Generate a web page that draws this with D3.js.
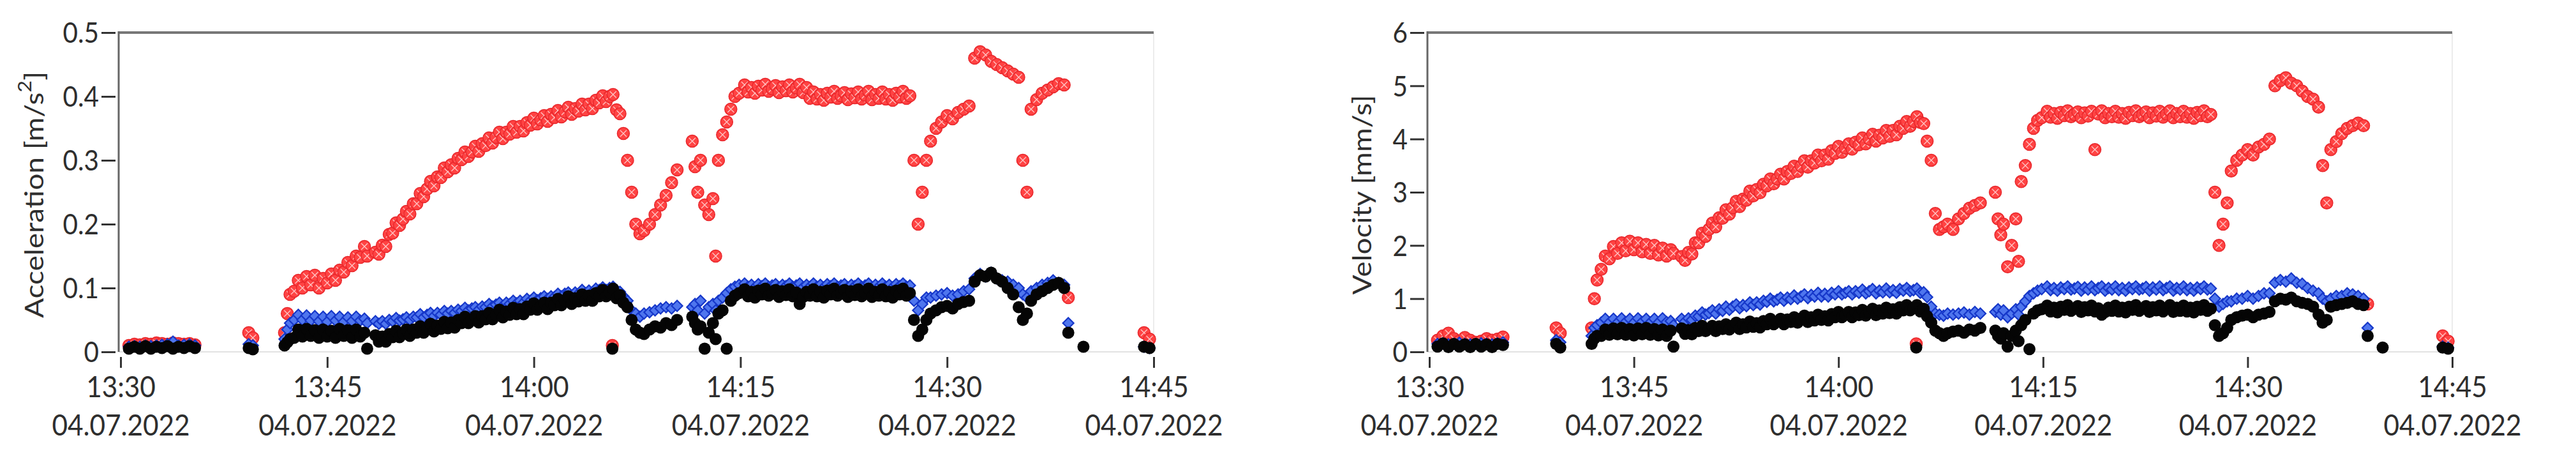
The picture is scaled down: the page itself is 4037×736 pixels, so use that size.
<!DOCTYPE html>
<html>
<head>
<meta charset="utf-8">
<script src="https://cdn.jsdelivr.net/npm/d3@7"></script>
<style>
  body { margin: 0; background: #fff; }
  svg { display: block; }
  text { font-family: Lato, 'Open Sans', sans-serif; fill: #2e2e2e; }
</style>
</head>
<body>
<div id="plot"></div>
<script>
const width = 4037
const height = 736

// measurement times, minutes after 13:30 on 04.07.2022
const minutes = [
  0.6,1.0,1.4,1.8,2.2,2.6,3.0,3.4,3.8,4.2,4.6,5.0,5.4,
  9.3,9.6,
  11.9,12.1,12.3,12.6,12.9,13.2,13.5,13.8,14.1,14.4,14.7,15.0,15.3,15.6,15.9,16.2,16.5,16.8,17.1,17.4,17.7,17.9,
  18.5,18.75,19,19.25,19.5,19.75,20,20.25,20.5,20.75,21,21.25,21.5,21.75,22,22.25,22.5,22.75,23,23.25,23.5,23.75,24,24.25,
  24.5,24.75,25,25.25,25.5,25.75,26,26.25,26.5,26.75,27,27.25,27.5,27.75,28,28.25,28.5,28.75,29,29.25,29.5,29.75,30,30.25,
  30.5,30.75,31,31.25,31.5,31.75,32,32.25,32.5,32.75,33,33.25,33.5,33.75,34,34.25,34.5,34.75,35,35.25,35.5,35.75,36,36.25,36.5,
  36.8,37.1,37.4,37.7,38.0,38.4,38.8,39.2,39.6,40.0,40.4,
  41.5,41.7,41.9,42.1,42.4,42.7,43.0,43.2,43.4,
  43.7,44.0,44.3,44.6,44.9,
  45.3,45.55,45.8,46.05,46.3,46.55,46.8,47.05,47.3,47.55,47.8,48.05,48.3,48.55,48.8,49.05,49.3,49.55,49.8,50.05,50.3,50.55,50.8,51.05,51.3,
  51.55,51.8,52.05,52.3,52.55,52.8,53.05,53.3,53.55,53.8,54.05,54.3,54.55,54.8,55.05,55.3,55.55,55.8,56.05,56.3,56.55,56.8,57.05,57.3,
  57.6,57.9,58.2,58.5,
  58.8,59.2,59.6,60.0,60.4,60.8,61.2,61.6,
  62.0,62.4,62.8,63.2,63.6,64.0,
  64.4,64.8,65.2,65.5,65.8,
  66.1,66.5,66.9,67.3,67.7,68.1,68.5,
  68.8,69.9,
  74.3,74.7,
  35.7
]

// acceleration [m/s2]
const accRed = [
  .010,.012,.011,.013,.012,.014,.013,.012,.014,.013,.012,.013,.011,
  .030,.022,
  .030,.060,.090,.095,.112,.100,.118,.105,.120,.100,.115,.108,.122,.112,.128,.125,.140,.135,.150,.148,.165,.150,
  .156,.153,.167,.165,.184,.186,.202,.198,.208,.220,.216,.232,.232,.248,.243,.255,.267,.260,.274,.273,
  .288,.282,.293,.288,.303,.301,.313,.306,.313,.322,.314,.326,.323,.335,.327,.336,.344,.334,.344,.341,
  .353,.344,.353,.346,.359,.355,.366,.357,.363,.370,.361,.372,.367,.378,.368,.376,.383,.372,.381,.377,
  .388,.379,.388,.381,.394,.390,.401,.392,.400,.403,.379,.373,.342,
  .300,.250,.200,.185,.190,.200,.215,.230,.245,.265,.285,
  .330,.290,.250,.300,.230,.215,.240,.150,.300,
  .340,.360,.380,.400,.405,
  .418,.407,.414,.405,.416,.410,.419,.408,.412,.417,.406,.415,.409,.418,.407,.413,.419,.406,.414,.397,
  .407,.396,.403,.394,.405,.399,.408,.397,.401,.406,.395,.404,.398,.407,.396,.402,.408,.395,.403,.397,
  .407,.396,.403,.394,.405,.399,.408,.397,.401,
  .300,.200,.250,.300,
  .330,.350,.360,.370,.365,.375,.380,.385,
  .460,.470,.465,.455,.450,.445,
  .440,.435,.430,.300,.250,
  .380,.395,.405,.410,.415,.420,.418,
  .085,null,
  .030,.020,
  .010
]
const accBlue = [
  .008,.009,.008,.010,.009,.010,.011,.012,.016,.010,.011,.012,.010,
  .012,.010,
  .020,.035,.045,.050,.058,.050,.057,.049,.056,.048,.055,.047,.056,.049,.055,.047,.054,.048,.055,.049,.052,.045,
  .048,.044,.048,.044,.050,.048,.053,.049,.051,.054,.050,.055,.054,.059,.054,.058,.061,.056,.061,.058,
  .064,.060,.064,.061,.066,.064,.069,.065,.068,.070,.066,.071,.070,.075,.071,.074,.077,.072,.077,.075,
  .080,.076,.080,.077,.083,.080,.085,.081,.084,.087,.083,.087,.086,.091,.087,.091,.093,.088,.093,.091,
  .097,.092,.096,.093,.099,.097,.101,.097,.100,.102,.094,.094,.087,
  .080,.065,.060,.055,.060,.062,.065,.068,.070,.068,.072,
  .070,.075,.065,.080,.060,.070,.075,.065,.080,
  .085,.092,.098,.102,.105,
  .107,.102,.105,.101,.106,.103,.107,.102,.104,.106,.101,.105,.103,.107,.102,.104,.107,.101,.105,.102,
  .107,.102,.105,.101,.106,.103,.107,.102,.104,.106,.101,.105,.103,.107,.102,.104,.107,.101,.105,.102,
  .107,.102,.105,.101,.106,.103,.107,.102,.104,
  .080,.065,.075,.085,
  .085,.088,.090,.092,.088,.090,.095,.098,
  .115,.122,.118,.124,.115,.112,
  .110,.105,.100,.090,.085,
  .095,.100,.105,.108,.112,.108,.105,
  .045,null,
  .008,.006,
  null
]
const accBlack = [
  .005,.008,.005,.009,.005,.008,.006,.009,.005,.008,.006,.009,.006,
  .006,.004,
  .010,.015,.020,.022,.035,.024,.036,.025,.034,.022,.035,.024,.033,.022,.036,.025,.034,.022,.035,.024,.030,.005,
  .026,.016,.024,.016,.028,.023,.033,.023,.029,.035,.025,.035,.030,.040,.030,.037,.044,.032,.041,.036,
  .047,.037,.046,.038,.050,.045,.055,.045,.050,.056,.046,.056,.051,.061,.051,.058,.066,.054,.063,.058,
  .069,.059,.067,.059,.071,.066,.076,.066,.071,.077,.067,.077,.073,.083,.073,.080,.087,.075,.084,.079,
  .090,.080,.088,.080,.092,.087,.097,.087,.093,.099,.084,.089,.077,
  .070,.050,.035,.030,.028,.035,.040,.038,.045,.042,.050,
  .055,.045,.035,.040,.005,.030,.045,.020,.060,
  .065,.005,.080,.088,.092,
  .098,.087,.094,.085,.096,.090,.099,.088,.092,.097,.086,.095,.089,.098,.087,.093,.075,.086,.094,.088,
  .098,.087,.094,.085,.096,.090,.099,.088,.092,.097,.086,.095,.089,.098,.087,.093,.099,.086,.094,.088,
  .098,.087,.094,.085,.096,.090,.099,.088,.092,
  .050,.025,.035,.050,
  .060,.065,.070,.072,.068,.075,.078,.080,
  .110,.120,.118,.124,.115,.110,
  .100,.090,.070,.050,.060,
  .080,.090,.095,.100,.105,.108,.100,
  .030,.008,
  .008,.006,
  .005
]

// velocity [mm/s]
const velRed = [
  .22,.30,.35,.25,.20,.27,.22,.18,.20,.25,.22,.24,.28,
  .45,.35,
  .45,1.00,1.35,1.55,1.80,1.75,1.98,1.85,2.05,1.90,2.08,1.92,2.05,1.88,2.02,1.85,2.00,1.82,1.95,1.80,1.92,1.85,
  1.79,1.72,1.87,1.84,2.05,2.05,2.23,2.17,2.30,2.42,2.35,2.52,2.51,2.67,2.59,2.71,2.83,2.73,2.87,2.85,
  3.02,2.93,3.05,2.99,3.15,3.12,3.25,3.16,3.25,3.34,3.25,3.39,3.35,3.49,3.39,3.49,3.59,3.47,3.59,3.55,
  3.70,3.59,3.70,3.62,3.78,3.73,3.86,3.75,3.83,3.91,3.81,3.94,3.89,4.02,3.91,4.00,4.09,3.96,4.07,4.02,
  4.16,4.05,4.16,4.08,4.24,4.20,4.33,4.24,4.33,4.42,4.31,4.29,3.96,
  3.60,2.60,2.30,2.35,2.40,2.30,2.50,2.60,2.70,2.75,2.80,
  3.00,2.50,2.20,2.40,1.60,2.00,2.50,1.70,3.20,
  3.50,3.90,4.20,4.35,4.40,
  4.52,4.41,4.48,4.39,4.50,4.44,4.53,4.42,4.46,4.51,4.40,4.49,4.43,4.52,3.80,4.47,4.53,4.40,4.48,4.42,
  4.52,4.41,4.48,4.39,4.50,4.44,4.53,4.42,4.46,4.51,4.40,4.49,4.43,4.52,4.41,4.47,4.53,4.40,4.48,4.42,
  4.52,4.41,4.48,4.39,4.50,4.44,4.53,4.42,4.46,
  3.00,2.00,2.40,2.80,
  3.40,3.60,3.70,3.80,3.70,3.85,3.90,4.00,
  5.00,5.10,5.15,5.05,5.00,4.90,
  4.80,4.75,4.60,3.50,2.80,
  3.80,3.95,4.10,4.20,4.25,4.30,4.25,
  .90,null,
  .30,.20,
  .15
]
const velBlue = [
  .15,.16,.14,.15,.17,.15,.14,.15,.16,.15,.14,.16,.18,
  .22,.18,
  .30,.45,.50,.55,.62,.55,.62,.55,.63,.56,.62,.55,.63,.56,.62,.55,.62,.55,.63,.56,.58,.50,
  .62,.57,.63,.60,.68,.67,.74,.70,.73,.78,.72,.80,.77,.85,.79,.85,.89,.82,.88,.86,
  .93,.88,.93,.89,.96,.94,1.00,.95,.98,1.02,.96,1.02,.99,1.06,1.00,1.04,1.08,1.01,1.07,1.04,
  1.11,1.04,1.09,1.04,1.11,1.08,1.14,1.08,1.11,1.14,1.08,1.14,1.11,1.17,1.10,1.14,1.18,1.10,1.15,1.12,
  1.19,1.12,1.16,1.11,1.18,1.15,1.20,1.14,1.16,1.19,1.11,1.12,1.03,
  .85,.72,.70,.68,.72,.70,.72,.74,.70,.75,.72,
  .75,.80,.70,.78,.65,.72,.80,.70,.85,
  .95,1.05,1.10,1.15,1.18,
  1.23,1.16,1.20,1.15,1.21,1.18,1.23,1.17,1.19,1.22,1.15,1.21,1.17,1.23,1.16,1.20,1.23,1.15,1.20,1.17,
  1.23,1.16,1.20,1.15,1.21,1.18,1.23,1.17,1.19,1.22,1.15,1.21,1.17,1.23,1.16,1.20,1.23,1.15,1.20,1.17,
  1.23,1.16,1.20,1.15,1.21,1.18,1.23,1.17,1.19,
  1.00,.85,.90,.95,
  .95,1.00,1.00,1.05,1.00,1.05,1.10,1.10,
  1.30,1.35,1.32,1.38,1.30,1.28,
  1.20,1.15,1.10,1.00,.95,
  1.00,1.05,1.05,1.10,1.08,1.05,1.00,
  .45,null,
  .10,.08,
  null
]
const velBlack = [
  .10,.16,.09,.15,.10,.14,.09,.15,.10,.14,.09,.15,.13,
  .15,.08,
  .15,.25,.30,.30,.42,.32,.44,.33,.45,.32,.43,.31,.44,.33,.45,.32,.43,.31,.42,.30,.40,.10,
  .44,.34,.41,.33,.45,.39,.49,.39,.43,.49,.39,.48,.43,.52,.42,.49,.55,.43,.52,.46,
  .57,.47,.54,.46,.58,.52,.62,.52,.56,.62,.52,.61,.56,.65,.55,.62,.68,.56,.65,.59,
  .70,.60,.67,.59,.71,.65,.75,.65,.69,.75,.65,.74,.69,.79,.68,.75,.81,.69,.78,.72,
  .83,.73,.80,.72,.84,.78,.88,.78,.82,.88,.76,.81,.67,
  .55,.40,.35,.30,.35,.38,.40,.36,.42,.40,.45,
  .40,.30,.25,.35,.10,.30,.40,.20,.50,
  .60,.05,.72,.78,.80,
  .87,.76,.83,.74,.85,.79,.88,.77,.81,.86,.75,.84,.78,.87,.76,.82,.70,.75,.83,.77,
  .87,.76,.83,.74,.85,.79,.88,.77,.81,.86,.75,.84,.78,.87,.76,.82,.88,.75,.83,.77,
  .87,.76,.83,.74,.85,.79,.88,.77,.81,
  .50,.30,.35,.45,
  .60,.65,.68,.70,.65,.70,.72,.75,
  .95,1.00,.98,1.02,.95,.92,
  .90,.85,.70,.55,.60,
  .85,.88,.90,.92,.95,.90,.88,
  .30,.08,
  .08,.06,
  .08
]

// axis ticks
const tickTimes = ['13:30', '13:45', '14:00', '14:15', '14:30', '14:45']
const tickDate = '04.07.2022'
const accTicks = [0, 0.1, 0.2, 0.3, 0.4, 0.5]
const velTicks = [0, 1, 2, 3, 4, 5, 6]

;[accRed, accBlue, accBlack, velRed, velBlue, velBlack].forEach((a, i) => {
    if (a.length !== minutes.length) throw new Error('series ' + i + ' has ' + a.length + ' values, expected ' + minutes.length)
})

const plotTop = 51
const plotBottom = 551
const squeeze = 0.9

const parseTime = d3.timeParse('%d.%m.%Y %H:%M')
const start = parseTime(tickDate + ' 13:30')
const toDate = m => new Date(start.getTime() + m * 60000)

// initialize svg
const svg = d3.select('div#plot').append('svg')
    .attr('width', width)
    .attr('height', height)
    .attr('viewBox', [0, 0, width, height])

svg.append('rect').attr('width', width).attr('height', height).attr('fill', '#fff')

function drawAxisX(left, right) {
    const scale = d3.scaleTime()
        .domain([toDate(-0.14), toDate(75)])
        .range([left, right])

    const axis = d3.axisBottom(scale)
        .tickValues(tickTimes.map(s => parseTime(tickDate + ' ' + s)))
        .tickFormat(d3.timeFormat('%H:%M'))

    svg.append('g')
        .attr('transform', 'translate(0,' + plotBottom + ')')
        .call(axis)
        .call(g => g.select('.domain').remove())
        .call(g => g.selectAll('.tick line')
            .attr('y1', 8).attr('y2', 25)
            .attr('stroke', '#333').attr('stroke-width', 3))
        .call(g => g.selectAll('.tick text')
            .attr('y', 71).attr('dy', null)
            .attr('font-size', 47)
            .attr('fill', '#2e2e2e')
            .attr('transform', 'scale(' + squeeze + ',1)'))
        .call(g => g.selectAll('.tick').append('text')
            .attr('y', 131)
            .attr('text-anchor', 'middle')
            .attr('font-size', 47)
            .attr('fill', '#2e2e2e')
            .attr('transform', 'scale(' + squeeze + ',1)')
            .text(tickDate))

    return scale
}

function drawAxisY(left, ticks, format) {
    const scale = d3.scaleLinear()
        .domain([0, d3.max(ticks)])
        .range([plotBottom, plotTop])

    const axis = d3.axisLeft(scale)
        .tickValues(ticks)
        .tickFormat(format)

    svg.append('g')
        .attr('transform', 'translate(' + left + ',0)')
        .call(axis)
        .call(g => g.select('.domain').remove())
        .call(g => g.selectAll('.tick line')
            .attr('x1', -27).attr('x2', -5)
            .attr('stroke', '#333').attr('stroke-width', 3))
        .call(g => g.selectAll('.tick text')
            .attr('x', -31 / 0.92)
            .attr('dy', '0.36em')
            .attr('font-size', 44)
            .attr('fill', '#2e2e2e')
            .attr('transform', 'scale(0.92,1)'))

    return scale
}

function drawFrame(left, right) {
    svg.append('line')
        .attr('x1', right).attr('x2', right).attr('y1', plotBottom).attr('y2', plotTop)
        .attr('stroke', '#ececec').attr('stroke-width', 2)
    svg.append('line')
        .attr('x1', left).attr('x2', right).attr('y1', plotBottom).attr('y2', plotBottom)
        .attr('stroke', '#e2e2e2').attr('stroke-width', 2)
    svg.append('line')
        .attr('x1', left).attr('x2', right).attr('y1', plotTop).attr('y2', plotTop)
        .attr('stroke', '#777').attr('stroke-width', 4)
    svg.append('line')
        .attr('x1', left).attr('x2', left).attr('y1', plotTop - 2).attr('y2', plotBottom)
        .attr('stroke', '#666').attr('stroke-width', 3)
}

function drawTitle(x, label, sup, rest) {
    const t = svg.append('text')
        .attr('transform', 'translate(' + x + ',305) rotate(-90) scale(1.15,1)')
        .attr('text-anchor', 'middle')
        .attr('dominant-baseline', 'central')
        .attr('font-size', 40)
        .attr('fill', '#2e2e2e')
    t.append('tspan').text(label)
    if (sup) {
        t.append('tspan').attr('font-size', 28).attr('dy', -14).text(sup)
        t.append('tspan').attr('dy', 14).text(rest)
    }
}

function drawSeries(xScale, yScale, red, blue, black) {
    const pts = vals => minutes.map((m, i) => [m, vals[i]]).filter(p => p[1] !== null)
    const g = svg.append('g')

    // red: circle with cross
    const r = g.append('g').selectAll('g')
        .data(pts(red))
        .enter()
        .append('g')
        .attr('transform', p => 'translate(' + xScale(toDate(p[0])) + ',' + yScale(p[1]) + ')')
    r.append('circle')
        .attr('r', 9.5)
        .attr('fill', '#ff4343')
        .attr('stroke', '#e8262b')
        .attr('stroke-width', 1.5)
    r.append('path')
        .attr('d', 'M-5,-5L5,5M-5,5L5,-5')
        .attr('stroke', '#ffc4c4')
        .attr('stroke-width', 1.3)

    // blue: diamond
    g.append('g').selectAll('path')
        .data(pts(blue))
        .enter()
        .append('path')
        .attr('d', 'M0,-8.5L8.5,0L0,8.5L-8.5,0Z')
        .attr('transform', p => 'translate(' + xScale(toDate(p[0])) + ',' + yScale(p[1]) + ')')
        .attr('fill', '#4f76ee')
        .attr('stroke', '#1637c9')
        .attr('stroke-width', 2.2)

    // black: filled dot
    g.append('g').selectAll('circle')
        .data(pts(black))
        .enter()
        .append('circle')
        .attr('cx', p => xScale(toDate(p[0])))
        .attr('cy', p => yScale(p[1]))
        .attr('r', 9.5)
        .attr('fill', '#050505')
}

// acceleration panel
const accX = drawAxisX(186, 1808)
const accY = drawAxisY(186, accTicks, d => d === 0 ? '0' : d3.format('.1f')(d))
drawFrame(186, 1808)
drawSeries(accX, accY, accRed, accBlue, accBlack)
drawTitle(52, 'Acceleration [m/s', '2', ']')

// velocity panel
const velX = drawAxisX(2237, 3843)
const velY = drawAxisY(2237, velTicks, d3.format('d'))
drawFrame(2237, 3843)
drawSeries(velX, velY, velRed, velBlue, velBlack)
drawTitle(2133, 'Velocity [mm/s]')
</script>
</body>
</html>
